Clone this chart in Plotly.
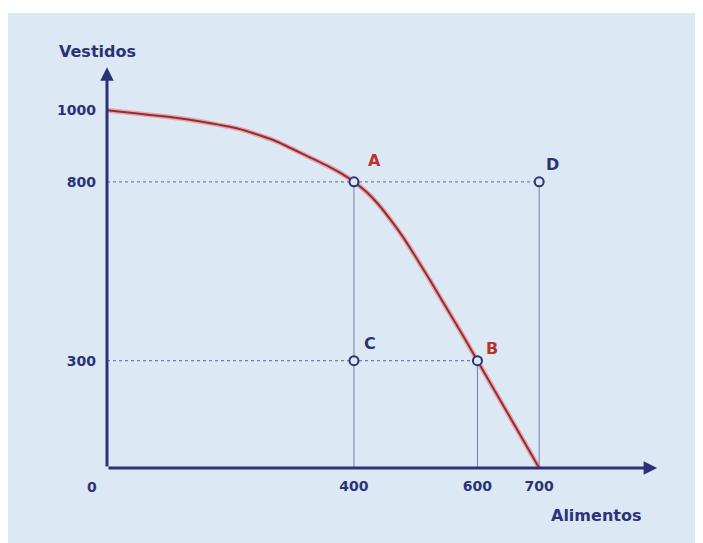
import plotly.graph_objects as go

# Production possibility frontier (Alimentos vs Vestidos)
curve_x = [0, 129, 214, 272, 329, 360, 380, 400, 420, 440, 460, 480, 500,
           520, 540, 560, 580, 600, 650, 700]
curve_y = [1000, 975, 948, 915, 868, 842, 823, 800, 772, 736, 692, 644, 590,
           534, 476, 418, 360, 300, 150, 0]

point_names = ["A", "B", "C", "D"]
point_x = [400, 600, 400, 700]
point_y = [800, 300, 300, 800]
point_colors = ["#b8322e", "#b8322e", "#2b3377", "#2b3377"]

x_tick_vals = [400, 600, 700]
x_tick_text = ["400", "600", "700"]
y_tick_vals = [300, 800, 1000]
y_tick_text = ["300", "800", "1000"]

x_label = "Alimentos"
y_label = "Vestidos"

NAVY = "#2b3377"
GUIDE = "#7580a6"
BG = "#dce8f4"
FONT = "DejaVu Sans"

X_RANGE = [-160.35, 965.3]
Y_RANGE = [-209.7, 1272.0]
X_ARROW_END = 891
Y_ARROW_END = 1120

fig = go.Figure()

# guide lines (horizontal dotted, vertical thin)
pA = (point_x[0], point_y[0])
pB = (point_x[1], point_y[1])
pD = (point_x[3], point_y[3])
fig.add_trace(go.Scatter(x=[0, pD[0]], y=[pD[1], pD[1]], mode="lines",
                         line=dict(color=GUIDE, width=1.2, dash="dot"), hoverinfo="skip"))
fig.add_trace(go.Scatter(x=[0, pB[0]], y=[pB[1], pB[1]], mode="lines",
                         line=dict(color=GUIDE, width=1.2, dash="dot"), hoverinfo="skip"))
for vx, vy in [(pA[0], pA[1]), (pD[0], pD[1]), (pB[0], pB[1])]:
    fig.add_trace(go.Scatter(x=[vx, vx], y=[vy, 0], mode="lines",
                             line=dict(color=GUIDE, width=1), hoverinfo="skip"))

# frontier curve: halo + core
fig.add_trace(go.Scatter(x=curve_x, y=curve_y, mode="lines",
                         line=dict(color="rgba(235,120,120,0.55)", width=5, shape="spline", smoothing=0.5),
                         hoverinfo="skip"))
fig.add_trace(go.Scatter(x=curve_x, y=curve_y, mode="lines",
                         line=dict(color="#952b33", width=2, shape="spline", smoothing=0.5),
                         hoverinfo="skip"))

# points
fig.add_trace(go.Scatter(x=point_x, y=point_y, mode="markers",
                         marker=dict(size=9, color=BG, line=dict(color=NAVY, width=2)),
                         hoverinfo="skip"))

# axes with arrows
fig.add_annotation(x=X_ARROW_END, y=0, ax=0, ay=0, xref="x", yref="y", axref="x", ayref="y",
                   showarrow=True, arrowhead=2, arrowsize=0.9, arrowwidth=3, arrowcolor=NAVY, text="")
fig.add_annotation(x=0, y=Y_ARROW_END, ax=0, ay=0, xref="x", yref="y", axref="x", ayref="y",
                   showarrow=True, arrowhead=2, arrowsize=0.9, arrowwidth=3, arrowcolor=NAVY, text="")

# point labels
label_shift = {"A": (21, 21), "B": (15, 12), "C": (16, 17), "D": (13, 17)}
for n, px, py, c in zip(point_names, point_x, point_y, point_colors):
    dx, dy = label_shift[n]
    fig.add_annotation(x=px, y=py, text=n, showarrow=False, xshift=dx, yshift=dy,
                       font=dict(family=FONT, size=16, color=c, weight="bold"))

# origin label
fig.add_annotation(x=0, y=0, text="0", showarrow=False, xshift=-15, yshift=-19,
                   font=dict(family=FONT, size=14, color=NAVY, weight="bold"))

# axis titles
fig.add_annotation(x=-16, y=1163, text=y_label, showarrow=False,
                   font=dict(family=FONT, size=16, color=NAVY, weight="bold"))
fig.add_annotation(x=792, y=-134, text=x_label, showarrow=False,
                   font=dict(family=FONT, size=16, color=NAVY, weight="bold"))

fig.update_layout(
    width=695, height=535,
    margin=dict(l=0, r=0, t=5, b=0),
    paper_bgcolor="white", plot_bgcolor=BG,
    showlegend=False,
    xaxis=dict(range=X_RANGE, showgrid=False, zeroline=False, showline=False,
               tickvals=x_tick_vals, ticktext=x_tick_text, ticks="",
               anchor="free", position=0.1415, ticklabelstandoff=8,
               tickfont=dict(family=FONT, size=14, color=NAVY, weight="bold")),
    yaxis=dict(range=Y_RANGE, showgrid=False, zeroline=False, showline=False,
               tickvals=y_tick_vals, ticktext=y_tick_text, ticks="",
               anchor="free", position=0.1425, ticklabelstandoff=11,
               tickfont=dict(family=FONT, size=14, color=NAVY, weight="bold")),
)

fig.write_html("out.html")
